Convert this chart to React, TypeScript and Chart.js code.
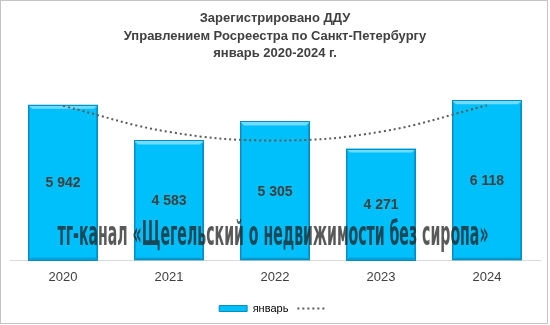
import React, { useEffect, useRef } from "react";
import { Chart, registerables } from "chart.js";

Chart.register(...registerables);

const years = ["2020", "2021", "2022", "2023", "2024"];
const januaryValues = [5942, 4583, 5305, 4271, 6118];
const trendValues = [5901, 4907, 4579, 4915, 5917];
const titleLines = [
  "Зарегистрировано ДДУ",
  "Управлением Росреестра по Санкт-Петербургу",
  "январь 2020-2024 г.",
];
const seriesLabel = "январь";
const watermarkText = "тг-канал «Щегельский о недвижимости без сиропа»";

const FONT = 'Arial, "Liberation Sans", sans-serif';
const BAR_COLOR = "#00c0fb";
const BAR_BORDER = "#0a8cc0";
const TEXT_COLOR = "#404040";

const fmt = (v: number) => String(v).replace(/\B(?=(\d{3})+(?!\d))/g, " ");

const backgroundPlugin = {
  id: "bgBorder",
  beforeDraw(chart: any) {
    const ctx = chart.ctx;
    ctx.save();
    ctx.fillStyle = "#ffffff";
    ctx.fillRect(0, 0, chart.width, chart.height);
    ctx.strokeStyle = "#c4c4c4";
    ctx.lineWidth = 1;
    ctx.strokeRect(0.5, 0.5, chart.width - 3, chart.height - 2);
    ctx.restore();
  },
};

const bevelPlugin = {
  id: "bevel",
  afterDatasetDraw(chart: any, args: any) {
    if (args.index !== 0) return;
    const ctx = chart.ctx;
    const meta = chart.getDatasetMeta(0);
    ctx.save();
    meta.data.forEach((bar: any) => {
      const { x, y, base, width } = bar.getProps(["x", "y", "base", "width"], true);
      const l = x - width / 2;
      const r = x + width / 2;
      const t = y;
      const b = base;
      const d = 4;
      ctx.fillStyle = "#6fdcff";
      ctx.beginPath();
      ctx.moveTo(l, t);
      ctx.lineTo(r, t);
      ctx.lineTo(r - d, t + d);
      ctx.lineTo(l + d, t + d);
      ctx.closePath();
      ctx.fill();
      ctx.fillStyle = "rgba(0,90,140,0.35)";
      ctx.beginPath();
      ctx.moveTo(r, t);
      ctx.lineTo(r, b);
      ctx.lineTo(r - 2, b - 2);
      ctx.lineTo(r - 2, t + d);
      ctx.closePath();
      ctx.fill();
      ctx.fillStyle = "rgba(0,90,140,0.25)";
      ctx.beginPath();
      ctx.moveTo(l, t);
      ctx.lineTo(l, b);
      ctx.lineTo(l + 2, b - 2);
      ctx.lineTo(l + 2, t + d);
      ctx.closePath();
      ctx.fill();
      ctx.fillStyle = "rgba(0,90,140,0.3)";
      ctx.beginPath();
      ctx.moveTo(l, b);
      ctx.lineTo(r, b);
      ctx.lineTo(r - 3, b - 3);
      ctx.lineTo(l + 3, b - 3);
      ctx.closePath();
      ctx.fill();
      ctx.strokeStyle = BAR_BORDER;
      ctx.lineWidth = 1;
      ctx.strokeRect(Math.round(l) + 0.5, Math.round(t) + 0.5, Math.round(width) - 1, Math.round(b - t) - 1);
    });
    ctx.restore();
  },
};

const labelsPlugin = {
  id: "barLabels",
  afterDatasetsDraw(chart: any) {
    const ctx = chart.ctx;
    const meta = chart.getDatasetMeta(0);
    ctx.save();
    ctx.font = `bold 14px ${FONT}`;
    ctx.fillStyle = TEXT_COLOR;
    ctx.textAlign = "center";
    ctx.textBaseline = "middle";
    meta.data.forEach((bar: any, i: number) => {
      const { x, y, base } = bar.getProps(["x", "y", "base"], true);
      ctx.fillText(fmt(januaryValues[i]), x, (y + base) / 2 + 1);
    });
    ctx.restore();
  },
};

const watermarkPlugin = {
  id: "watermark",
  afterDraw(chart: any) {
    const ctx = chart.ctx;
    const area = chart.chartArea;
    ctx.save();
    ctx.font = `bold 34px "DejaVu Sans Condensed", "DejaVu Sans", sans-serif`;
    ctx.fillStyle = "rgba(33,33,33,0.75)";
    ctx.textAlign = "center";
    ctx.textBaseline = "alphabetic";
    const cx = (area.left + area.right) / 2;
    ctx.fillText(watermarkText, cx - 2, area.bottom - 15, 431);
    ctx.restore();
  },
};

export default function App() {
  const canvasRef = useRef<HTMLCanvasElement | null>(null);

  useEffect(() => {
    document.body.style.margin = "0";
    const canvas = canvasRef.current;
    if (!canvas) return;
    const chart = new Chart(canvas, {
      type: "bar",
      data: {
        labels: years,
        datasets: [
          {
            type: "bar",
            label: seriesLabel,
            data: januaryValues,
            backgroundColor: BAR_COLOR,
            borderWidth: 0,
            barPercentage: 0.66,
            categoryPercentage: 1,
            order: 2,
          } as any,
          {
            type: "line",
            label: "",
            data: trendValues,
            borderColor: "#5a5a5a",
            borderWidth: 2,
            borderDash: [2, 3],
            pointRadius: 0,
            tension: 0.4,
            fill: false,
            order: 1,
          } as any,
        ],
      },
      options: {
        responsive: false,
        animation: false,
        events: [],
        layout: { padding: { left: 10, right: 10, top: 0, bottom: 1 } },
        plugins: {
          title: {
            display: true,
            text: titleLines,
            color: TEXT_COLOR,
            font: { family: FONT, size: 13, weight: "bold", lineHeight: 1.33 },
            padding: { top: 10, bottom: 16 },
          },
          legend: {
            display: true,
            position: "bottom",
            labels: {
              usePointStyle: true,
              pointStyleWidth: 28,
              boxHeight: 6,
              color: "#595959",
              font: { family: FONT, size: 11 },
              padding: 9,
              generateLabels: () => [
                {
                  text: seriesLabel,
                  fillStyle: BAR_COLOR,
                  strokeStyle: BAR_BORDER,
                  lineWidth: 1,
                  pointStyle: "rect",
                  datasetIndex: 0,
                  hidden: false,
                },
                {
                  text: "",
                  fillStyle: "rgba(0,0,0,0)",
                  strokeStyle: "#5a5a5a",
                  lineWidth: 2,
                  lineDash: [2, 3],
                  pointStyle: "line",
                  datasetIndex: 1,
                  hidden: false,
                },
              ],
            },
          },
          tooltip: { enabled: false },
        },
        scales: {
          x: {
            grid: { display: false, drawTicks: false },
            border: { display: true, color: "#d9d9d9", width: 1 },
            ticks: { color: TEXT_COLOR, font: { family: FONT, size: 13 }, padding: 9 },
          },
          y: {
            display: false,
            min: 0,
            max: 6970,
          },
        },
      },
      plugins: [backgroundPlugin, bevelPlugin, labelsPlugin, watermarkPlugin],
    });
    return () => chart.destroy();
  }, []);

  return (
    <div style={{ position: "absolute", left: 0, top: 0, width: 550, height: 325 }}>
      <canvas ref={canvasRef} width={550} height={325} style={{ width: 550, height: 325 }} />
    </div>
  );
}
